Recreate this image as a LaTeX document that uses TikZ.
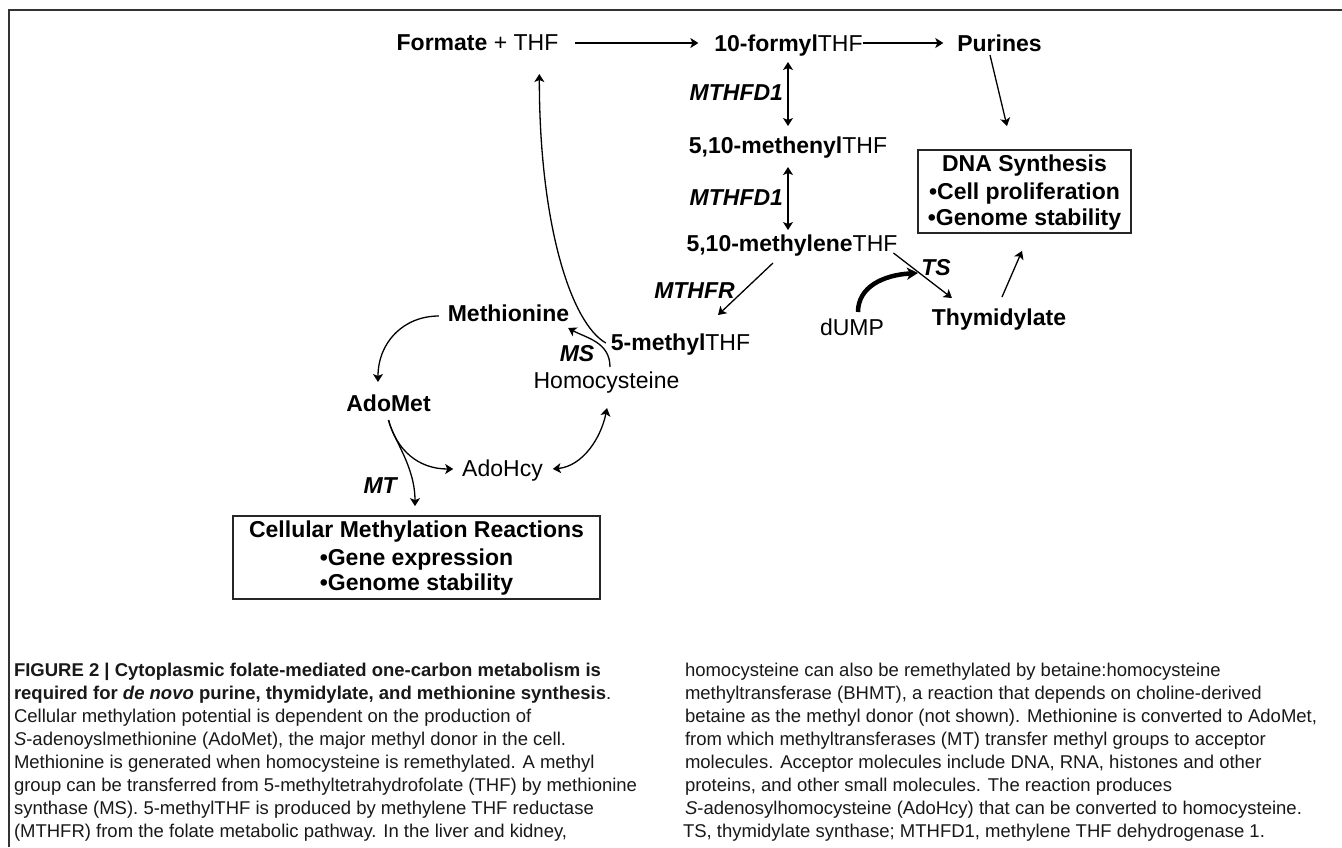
\documentclass[tikz,border=0pt]{standalone}
\usepackage{fontspec}
\setmainfont{Liberation Sans}
\usetikzlibrary{arrows.meta,calc}
\newcommand\diagfont{\fontsize{23}{27}\selectfont}
\newcommand\capfont{\fontsize{18.5}{23}\selectfont}
\begin{document}
\begin{tikzpicture}[x=1pt,y=-1pt,
  lbl/.style={inner sep=0pt, outer sep=0pt, anchor=base, font=\diagfont},
  captxt/.style={inner sep=0pt, outer sep=0pt, anchor=base west, font=\capfont, text=black!90},
  arr/.style={line width=1.3pt, -{Stealth[length=8pt,width=10pt,inset=2pt]}},
  dbl/.style={line width=1.3pt, {Stealth[length=8pt,width=10pt,inset=2pt]}-{Stealth[length=8pt,width=10pt,inset=2pt]}},
  thk/.style={line width=4.5pt, -{Stealth[length=11pt,width=12pt,inset=3pt]}},
  box/.style={draw=black!85, line width=1.8pt, inner sep=0pt},
  frame/.style={draw=black!80, line width=2.5pt, line join=miter}]
\useasboundingbox (0,0) rectangle (1342,847);
\fill[white] (0,0) rectangle (1342,847);
\draw[frame] (9,847) -- (9,10) -- (1342,10);

% nodes
\node[lbl] (formate) at (477.5,50) {\textbf{Formate} + THF};
\node[lbl] (formyl) at (788.5,51) {\textbf{10-formyl}THF};
\node[lbl] (purines) at (999.5,51) {\textbf{Purines}};
\node[lbl, anchor=base east] (mthfda) at (783,100) {\textbf{\textit{MTHFD1}}};
\node[lbl] (methenyl) at (788,153) {\textbf{5,10-methenyl}THF};
\node[lbl, anchor=base east] (mthfdb) at (783,205) {\textbf{\textit{MTHFD1}}};
\node[lbl] (methylene) at (792,251) {\textbf{5,10-methylene}THF};
\node[lbl] (mthfr) at (694.5,298) {\textbf{\textit{MTHFR}}};
\node[lbl] (ts) at (936,275) {\textbf{\textit{TS}}};
\node[lbl] (dump) at (852,335) {dUMP};
\node[lbl] (thym) at (999,325) {\textbf{Thymidylate}};
\node[lbl] (methyl) at (680.5,350) {\textbf{5-methyl}THF};
\node[lbl] (methionine) at (508.5,321) {\textbf{Methionine}};
\node[lbl] (ms) at (577,361) {\textbf{\textit{MS}}};
\node[lbl] (homocys) at (606.5,388) {Homocysteine};
\node[lbl] (adomet) at (388.5,411) {\textbf{AdoMet}};
\node[lbl] (adohcy) at (502.5,476) {AdoHcy};
\node[lbl] (mt) at (381,493) {\textbf{\textit{MT}}};

% boxes
\node[box, minimum width=213pt, minimum height=83pt] (dnabox) at (1024.5,191.5) {};
\node[lbl] (dnaa) at (1024.5,171) {\textbf{DNA Synthesis}};
\node[lbl] (dnab) at (1024.5,199) {\textbf{•Cell proliferation}};
\node[lbl] (dnac) at (1024.5,225) {\textbf{•Genome stability}};
\node[box, minimum width=367pt, minimum height=83pt] (cmbox) at (416.5,557.5) {};
\node[lbl] (cma) at (416.5,537) {\textbf{Cellular Methylation Reactions}};
\node[lbl] (cmb) at (416.5,565) {\textbf{•Gene expression}};
\node[lbl] (cmc) at (416.5,590) {\textbf{•Genome stability}};

% connectors
\draw[arr] ($(formate.base east)+(17,-7)$) -- ($(formyl.base west)+(-16,-8)$);
\draw[arr] ($(formyl.base east)+(0,-8)$) -- ($(purines.base west)+(-14,-8)$);
\draw[dbl] ($(formyl.base)+(-0.5,11)$) -- ($(methenyl.base)+(0,-27)$);
\draw[dbl] ($(methenyl.base)+(0,14)$) -- ($(methylene.base)+(-4,-21)$);
\draw[arr] ($(methylene.base)+(-19,12)$) -- ($(methyl.base)+(37.5,-35)$);
\draw[arr] ($(methylene.base east)+(-4,2)$) -- ($(thym.base west)+(20,-27)$);
\draw[thk] ($(dump.base)+(6,-23)$) .. controls +(0,-25) and +(-35,2) .. ($(ts.base west)+(-3.3,-2)$);
\draw[arr] ($(thym.base)+(3,-28)$) -- ($(dnabox.south)+(-2.5,17)$);
\draw[arr] ($(purines.base)+(-9.5,4)$) -- ($(dnabox.north)+(-17.5,-23)$);
\draw[arr] ($(methyl.base west)+(-5,-7)$) .. controls +(-35,-20) and +(0,150) .. ($(formate.base east)+(-19,24)$);
\draw[arr] ($(homocys.base)+(3.5,-21)$) .. controls +(0,-25) and +(18,10) .. ($(methionine.base east)+(-1,7)$);
\draw[arr] ($(methionine.base west)+(-9,-5)$) .. controls +(-35,0) and +(0,-40) .. ($(adomet.base)+(-10.5,-29)$);
\draw[arr] ($(adomet.base)+(0,9)$) .. controls +(8,30) and +(-35,0) .. ($(adohcy.base west)+(-9,-7)$);
\draw[arr] ($(adomet.base)+(0,9)$) .. controls +(5,20) and +(0,-40) .. ($(cmbox.north)+(-1.5,-9)$);
\draw[dbl] ($(adohcy.base east)+(10,-7)$) .. controls +(30,-3) and +(-6,30) .. ($(homocys.base)+(0.5,20)$);

% caption
\node[captxt] (cla) at (14,676) {\textbf{FIGURE 2 | Cytoplasmic folate-mediated one-carbon metabolism is}};
\node[captxt] (clb) at (14,699) {\textbf{required for \textit{de novo} purine, thymidylate, and methionine synthesis}.};
\node[captxt] (clc) at (14,722) {Cellular methylation potential is dependent on the production of};
\node[captxt] (cld) at (14,745) {\textit{S}-adenoyslmethionine (AdoMet), the major methyl donor in the cell.};
\node[captxt] (cle) at (14,768) {Methionine is generated when homocysteine is remethylated. A methyl};
\node[captxt] (clf) at (14,791) {group can be transferred from 5-methyltetrahydrofolate (THF) by methionine};
\node[captxt] (clg) at (14,814) {synthase (MS). 5-methylTHF is produced by methylene THF reductase};
\node[captxt] (clh) at (14,837) {(MTHFR) from the folate metabolic pathway. In the liver and kidney,};
\node[captxt] (cra) at (685,676) {homocysteine can also be remethylated by betaine:homocysteine};
\node[captxt] (crb) at (685,699) {methyltransferase (BHMT), a reaction that depends on choline-derived};
\node[captxt] (crc) at (685,722) {betaine as the methyl donor (not shown). Methionine is converted to AdoMet,};
\node[captxt] (crd) at (685,745) {from which methyltransferases (MT) transfer methyl groups to acceptor};
\node[captxt] (cre) at (685,768) {molecules. Acceptor molecules include DNA, RNA, histones and other};
\node[captxt] (crf) at (685,791) {proteins, and other small molecules. The reaction produces};
\node[captxt] (crg) at (685,814) {\textit{S}-adenosylhomocysteine (AdoHcy) that can be converted to homocysteine.};
\node[captxt] (crh) at (683,837) {TS, thymidylate synthase; MTHFD1, methylene THF dehydrogenase 1.};
\end{tikzpicture}
\end{document}
